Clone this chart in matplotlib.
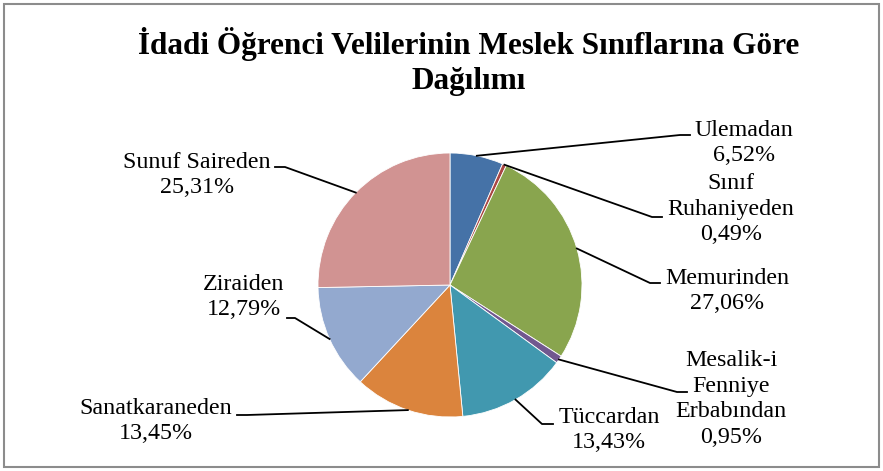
import numpy as np
import matplotlib.pyplot as plt
from matplotlib.patches import Rectangle

plt.rcParams['font.family'] = ['Liberation Serif', 'DejaVu Serif']

labels = ['Ulemadan', 'Sınıf\nRuhaniyeden', 'Memurinden', 'Mesalik-i\nFenniye\nErbabından',
          'Tüccardan', 'Sanatkaraneden', 'Ziraiden', 'Sunuf Saireden']
shares = [6.52, 0.49, 27.06, 0.95, 13.43, 13.45, 12.79, 25.31]
colors = ['#4572A7', '#AA4643', '#89A54E', '#71588F', '#4198AF', '#DB843D', '#93A9CF', '#D19392']

W, H = 883, 471
cx, cy, r = 450, 285, 132   # pie centre and radius in pixels

# label block centre, leader elbow and leader end (pixels, y downwards)
label_xy = [(744, 143), (731, 209), (727, 291), (731, 399), (609, 430), (156, 421), (244, 297), (197, 175)]
elbow_xy = [(680, 135), (652, 217), (650, 283), (677, 392), (542, 424), (247, 415), (295, 318), (285, 167)]
end_xy = [(690, 135), (662, 217), (660, 283), (687, 392), (553, 424), (237, 415), (287, 318), (275, 167)]

fig = plt.figure(figsize=(W / 100, H / 100), dpi=100)

ax = fig.add_axes([(cx - r) / W, (H - cy - r) / H, 2 * r / W, 2 * r / H])
ax.pie(shares, colors=colors, startangle=90, counterclock=False, radius=1,
       wedgeprops=dict(edgecolor='white', linewidth=0.6))
ax.set_xlim(-1, 1)
ax.set_ylim(-1, 1)
ax.axis('off')

ov = fig.add_axes([0, 0, 1, 1], facecolor='none')
ov.set_xlim(0, W)
ov.set_ylim(H, 0)
ov.axis('off')

ov.add_patch(Rectangle((4, 4), W - 8, H - 8, fill=False, edgecolor='#8c8c8c', linewidth=1.5))

ov.text(469, 54, 'İdadi Öğrenci Velilerinin Meslek Sınıflarına Göre', ha='center', va='baseline',
        fontsize=22.5, fontweight='bold')
ov.text(469, 89, 'Dağılımı', ha='center', va='baseline', fontsize=22.5, fontweight='bold')

cum = np.cumsum([0] + shares)
for i, (lab, val) in enumerate(zip(labels, shares)):
    theta = np.deg2rad((cum[i] + val / 2) / 100 * 360)
    sx, sy = cx + r * np.sin(theta), cy - r * np.cos(theta)
    ex, ey = elbow_xy[i]
    tx, ty = end_xy[i]
    ov.plot([sx, ex, tx], [sy, ey, ty], color='black', linewidth=1.3)
    txt = lab + '\n' + ('%.2f' % val).replace('.', ',') + '%'
    ov.text(label_xy[i][0], label_xy[i][1], txt, ha='center', va='center', multialignment='center',
            fontsize=17.3, linespacing=1.28)

fig.savefig('out.png', dpi=100)
